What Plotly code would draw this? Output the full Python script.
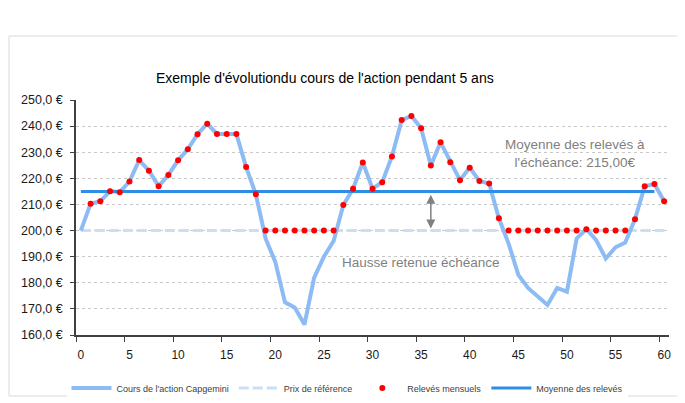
import plotly.graph_objects as go

# Données (mois 0 à 60)
mois = list(range(61))
cours = [200.0, 210.3, 211.2, 215.1, 214.7, 218.8, 227.0, 222.9, 217.0, 221.3,
         226.9, 231.1, 236.9, 240.9, 237.0, 237.0, 237.0, 224.3, 213.9, 197.0,
         188.0, 172.5, 170.5, 164.0, 182.0, 190.0, 196.0, 209.8, 216.0, 226.1,
         216.0, 218.5, 228.4, 242.3, 243.9, 239.2, 224.9, 233.8, 226.2, 219.3,
         224.1, 219.0, 218.0, 204.7, 195.0, 183.0, 178.0, 174.7, 171.5, 178.0,
         176.6, 197.0, 200.5, 196.4, 189.3, 193.6, 195.4, 204.3, 217.0, 217.8,
         211.2]

mois_releves = list(range(1, 61))
releves = [210.3, 211.2, 215.1, 214.7, 218.8, 227.0, 222.9, 217.0, 221.3, 226.9,
           231.1, 236.9, 240.9, 237.0, 237.0, 237.0, 224.3, 213.9, 200.0, 200.0,
           200.0, 200.0, 200.0, 200.0, 200.0, 200.0, 209.8, 216.0, 226.1, 216.0,
           218.5, 228.4, 242.3, 243.9, 239.2, 224.9, 233.8, 226.2, 219.3, 224.1,
           219.0, 218.0, 204.7, 200.0, 200.0, 200.0, 200.0, 200.0, 200.0, 200.0,
           200.0, 200.5, 200.0, 200.0, 200.0, 200.0, 204.3, 217.0, 217.8, 211.2]

mois_ref = [0, 60]
prix_ref = [200, 200]

mois_moyenne = [0, 59]
moyenne = [215, 215]

y_ticks = [160, 170, 180, 190, 200, 210, 220, 230, 240, 250]
y_labels = ["160,0 €", "170,0 €", "180,0 €", "190,0 €", "200,0 €",
            "210,0 €", "220,0 €", "230,0 €", "240,0 €", "250,0 €"]
x_ticks = [0, 5, 10, 15, 20, 25, 30, 35, 40, 45, 50, 55, 60]

FONT = "Liberation Sans, Arial, sans-serif"

fig = go.Figure()

fig.add_trace(go.Scatter(x=mois_ref, y=prix_ref, mode="lines",
                         name="Prix de référence", legendrank=2,
                         line=dict(color="#C9DFF7", width=3, dash="10px,4px")))
fig.add_trace(go.Scatter(x=mois, y=cours, mode="lines",
                         name="Cours de l'action Capgemini", legendrank=1,
                         line=dict(color="#8DBBF4", width=4)))
fig.add_trace(go.Scatter(x=mois_moyenne, y=moyenne, mode="lines",
                         name="Moyenne des relevés", legendrank=4,
                         line=dict(color="#2E8DE5", width=3)))
fig.add_trace(go.Scatter(x=mois_releves, y=releves, mode="markers",
                         name="Relevés mensuels", legendrank=3,
                         marker=dict(color="#FF0000", size=6)))

# flèche double entre prix de référence et moyenne
fig.add_annotation(x=36, y=200.8, ax=36, ay=214.3, xref="x", yref="y",
                   axref="x", ayref="y", text="", showarrow=True,
                   arrowside="end+start", arrowhead=2, arrowsize=1.2,
                   arrowwidth=1.5, arrowcolor="#808080")

fig.add_annotation(x=50.8, y=229.5, xref="x", yref="y", showarrow=False,
                   text="Moyenne des relevés à<br>l'échéance: 215,00€",
                   font=dict(family=FONT, size=13.5, color="#7F7F7F"))
fig.add_annotation(x=35.0, y=187.7, xref="x", yref="y", showarrow=False,
                   text="Hausse retenue échéance",
                   font=dict(family=FONT, size=13.5, color="#7F7F7F"))

# titre
fig.add_annotation(x=(325 - 76) / 593, y=(335 - 68) / 235, xref="paper", yref="paper",
                   showarrow=False,
                   text="Exemple d'évolutiondu cours de l'action pendant 5 ans",
                   font=dict(family=FONT, size=14, color="#000000"))

# cadre gris autour du graphique
fig.add_shape(type="rect", xref="paper", yref="paper",
              x0=(9 - 76) / 593, x1=1.1, y0=(335 - 396) / 235, y1=(335 - 36) / 235,
              line=dict(color="#D9D9D9", width=1), fillcolor="rgba(0,0,0,0)")

fig.update_xaxes(range=[-0.5, 60.5], tickvals=x_ticks, ticks="",
                 ticklabelstandoff=8, automargin=False,
                 showline=True, linecolor="#404040", linewidth=1.5,
                 showgrid=False, zeroline=False,
                 tickfont=dict(family=FONT, size=12, color="#1A1A1A"),
                 minor=dict(tickvals=[v - 0.5 for v in x_ticks], ticks="outside",
                            ticklen=5, tickcolor="#404040", tickwidth=1, showgrid=False))
fig.update_yaxes(range=[160, 250], tickvals=y_ticks, ticktext=y_labels,
                 ticks="outside", ticklen=4, tickcolor="#404040", automargin=False,
                 ticklabelstandoff=5,
                 showline=True, linecolor="#404040", linewidth=1.5,
                 showgrid=True, gridcolor="#C8C8C8", griddash="3px,3px", gridwidth=1,
                 zeroline=False,
                 tickfont=dict(family=FONT, size=12.5, color="#1A1A1A"))

# la page ajoute 8 px de marge : zone de tracé visée 76-669 x 100-335
fig.update_layout(
    width=685, height=403,
    margin=dict(l=68, r=24, t=92, b=76, autoexpand=False),
    paper_bgcolor="white", plot_bgcolor="white",
    showlegend=True,
    legend=dict(orientation="h", x=0.457, xanchor="center",
                y=-(388 - 335) / 235, yanchor="middle",
                font=dict(family=FONT, size=9, color="#404040"),
                itemwidth=40, tracegroupgap=0),
    font=dict(family=FONT),
)

fig.write_html("out.html")
